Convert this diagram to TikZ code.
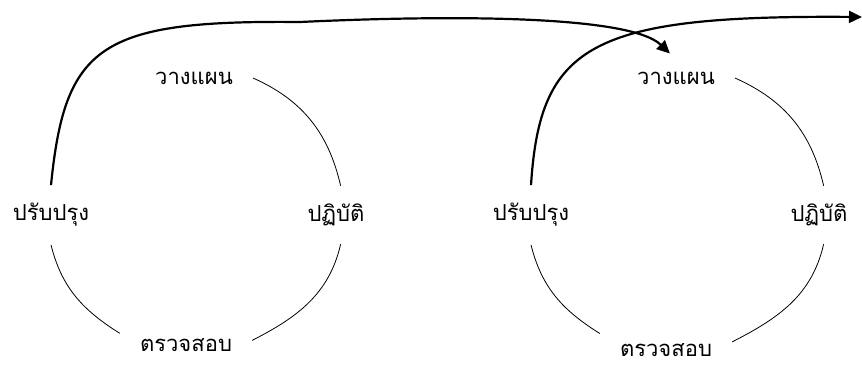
\documentclass[tikz,border=0pt]{standalone}
\usepackage{fontspec}
\newfontfamily\thaifont[Script=Thai]{Loma}
\usetikzlibrary{arrows.meta,positioning}
\tikzset{
  phase/.style={font=\thaifont\fontsize{22}{26}\selectfont,
                inner xsep=20pt,inner ysep=18pt},
  cyc/.style={line width=0.8pt},
  arr/.style={-{Triangle[length=13pt,width=12pt]},line width=2.2pt},
}
\begin{document}
\begin{tikzpicture}[x=1pt,y=1pt]
  \useasboundingbox (0,0) rectangle (862,365);
  \node[phase](plan1)  at (194,287) {วางแผน};
  \node[phase](do1)    at (336,150) {ปฏิบัติ};
  \node[phase](check1) at (186,20)  {ตรวจสอบ};
  \node[phase](act1)   at (51,150)  {ปรับปรุง};
  \node[phase](plan2)  at (676,287) {วางแผน};
  \node[phase](do2)    at (819,150) {ปฏิบัติ};
  \node[phase](check2) at (666,15)  {ตรวจสอบ};
  \node[phase](act2)   at (531,150) {ปรับปรุง};
  \coordinate (exit) at (862,348);

  \draw[cyc](plan1.east)  to[out=-24,in=103] (do1.81);
  \draw[cyc](do1.-81)     to[out=-103,in=27] (check1.4);
  \draw[cyc](check1.170)  to[out=148,in=-76] (act1.south);
  \draw[cyc](plan2.east)  to[out=-24,in=103] (do2.81);
  \draw[cyc](do2.-81)     to[out=-103,in=27] (check2.7);
  \draw[cyc](check2.166)  to[out=148,in=-76] (act2.south);

  \draw[arr](act1.north) .. controls (65,320) and (100,345) .. (300,343)
                         .. controls (450,350) and (630,350) .. (plan2.104);
  \draw[arr](act2.north) .. controls (540,320) and (590,350) .. (exit);
\end{tikzpicture}
\end{document}
